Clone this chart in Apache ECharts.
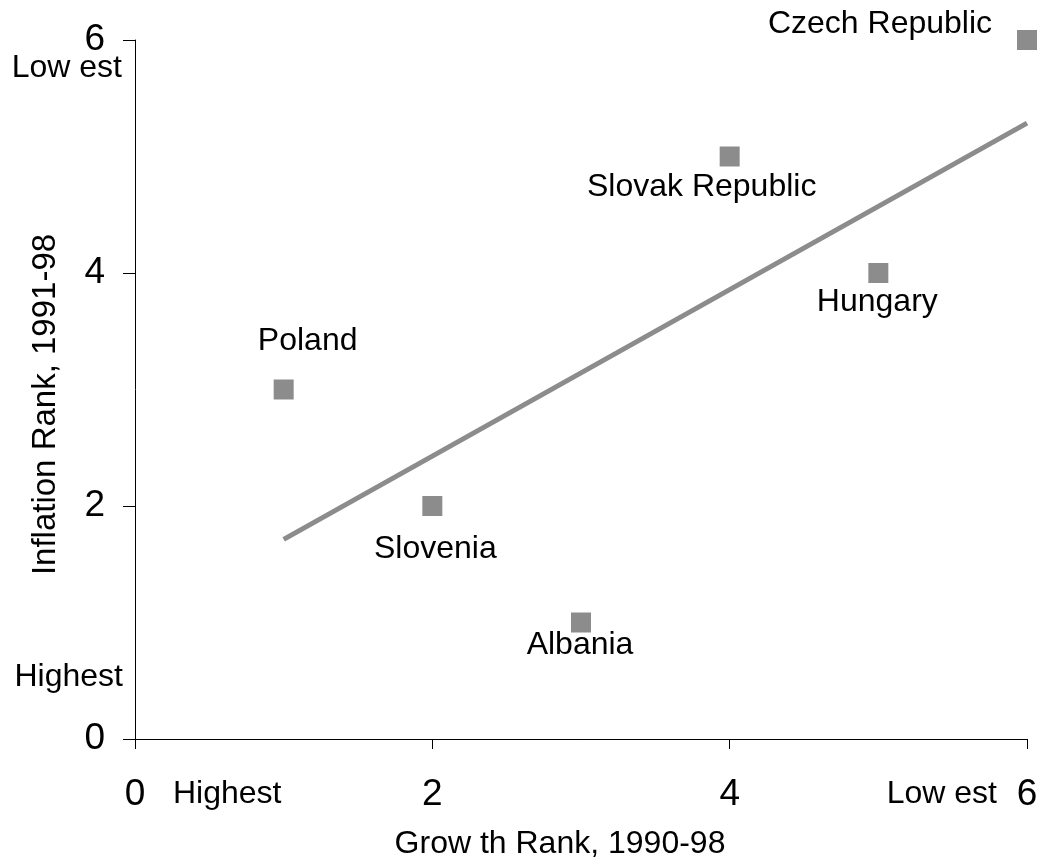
<!DOCTYPE html>
<html>
<head>
<meta charset="utf-8">
<script src="https://cdn.jsdelivr.net/npm/echarts@6/dist/echarts.min.js"></script>
<style>
  html, body { margin: 0; padding: 0; background: #fff; }
  #main { width: 1046px; height: 863px; }
</style>
</head>
<body>
<div id="main"></div>
<script>
// data
const countries = ['Poland', 'Slovenia', 'Albania', 'Slovak Republic', 'Hungary', 'Czech Republic'];
const growthRank = [1, 2, 3, 4, 5, 6];
const inflationRank = [3, 2, 1, 5, 4, 6];
// trend line end points
const trendX = [1, 6];
const trendY = [1.714, 5.286];
const axisTicks = [0, 2, 4, 6];

// label placement (style only)
const labelOffsets = {
  'Poland': [24, -48],
  'Slovenia': [3, 43],
  'Albania': [-1, 23],
  'Slovak Republic': [-28, 31],
  'Hungary': [-1, 29],
  'Czech Republic': [-147, -16]
};

const font = "'Liberation Sans', Arial, sans-serif";
const grey = '#8c8c8c';

const points = countries.map((c, i) => ({
  name: c,
  value: [growthRank[i], inflationRank[i]],
  label: { offset: labelOffsets[c] }
}));
const trend = trendX.map((x, i) => [x, trendY[i]]);

const chartDom = document.getElementById('main');
const myChart = echarts.init(chartDom);

const option = {
  animation: false,
  grid: { left: 135, right: 19, top: 40, bottom: 124, outerBoundsMode: 'none', containLabel: false },
  xAxis: {
    type: 'value',
    min: axisTicks[0],
    max: axisTicks[axisTicks.length - 1],
    interval: 2,
    name: 'Grow th Rank, 1990-98',
    nameLocation: 'middle',
    nameGap: 89,
    nameTextStyle: { fontFamily: font, fontSize: 32, color: '#000', padding: [0, 42, 0, 0] },
    splitLine: { show: false },
    axisLine: { onZero: false, lineStyle: { color: '#000', width: 1 } },
    axisTick: { length: 10, lineStyle: { color: '#000' } },
    axisLabel: { margin: 37, fontFamily: font, fontSize: 37, color: '#000' }
  },
  yAxis: {
    type: 'value',
    min: axisTicks[0],
    max: axisTicks[axisTicks.length - 1],
    interval: 2,
    name: 'Inflation Rank, 1991-98',
    nameLocation: 'middle',
    nameGap: 73,
    nameTextStyle: { fontFamily: font, fontSize: 33, color: '#000', padding: [0, 30, 0, 0] },
    splitLine: { show: false },
    axisLine: { show: true, onZero: false, lineStyle: { color: '#000', width: 1 } },
    axisTick: { show: true, length: 12, lineStyle: { color: '#000' } },
    axisLabel: { margin: 30, fontFamily: font, fontSize: 37, color: '#000' }
  },
  graphic: [
    { type: 'text', style: { x: 122, y: 68, text: 'Low est', textAlign: 'right', textVerticalAlign: 'middle', font: '32px ' + font, fill: '#000' } },
    { type: 'text', style: { x: 123, y: 677, text: 'Highest', textAlign: 'right', textVerticalAlign: 'middle', font: '32px ' + font, fill: '#000' } },
    { type: 'text', style: { x: 173, y: 794, text: 'Highest', textAlign: 'left', textVerticalAlign: 'middle', font: '32px ' + font, fill: '#000' } },
    { type: 'text', style: { x: 997, y: 794, text: 'Low est', textAlign: 'right', textVerticalAlign: 'middle', font: '32px ' + font, fill: '#000' } }
  ],
  series: [
    {
      type: 'line',
      data: trend,
      showSymbol: false,
      lineStyle: { color: grey, width: 5 },
      z: 2
    },
    {
      type: 'scatter',
      data: points,
      symbol: 'rect',
      symbolSize: 20,
      itemStyle: { color: grey, opacity: 1 },
      label: {
        show: true,
        position: 'inside',
        formatter: '{b}',
        fontFamily: font,
        fontSize: 32,
        color: '#000',
        textBorderWidth: 0
      },
      z: 3
    }
  ]
};
myChart.setOption(option);
</script>
</body>
</html>
